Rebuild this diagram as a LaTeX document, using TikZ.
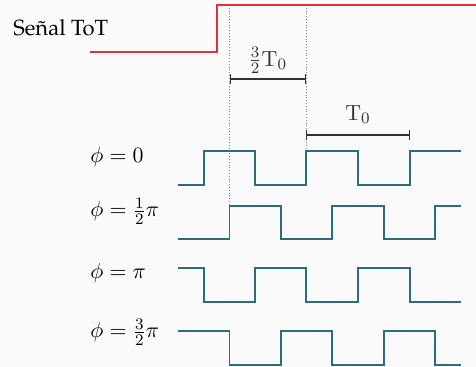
\documentclass[tikz,border=0pt]{standalone}
\usepackage[T1]{fontenc}
\usepackage{palatino}
\usetikzlibrary{arrows.meta}
\definecolor{signalred}{HTML}{D8343C}
\definecolor{petrol}{HTML}{2C6E7E}
\definecolor{paper}{HTML}{FAFAFA}
\tikzset{
  sqwave/.style={petrol,line width=0.9pt},
  guide/.style={gray,densely dotted,line width=0.4pt},
  span/.style={{Bar[width=5pt]}-{Bar[width=5pt]},line width=0.7pt,black!80},
  lbl/.style={anchor=base west,inner sep=0pt,font=\fontsize{11}{13}\selectfont}
}

\begin{document}
\begin{tikzpicture}[x=0.5pt,y=-0.5pt]
      \fill[paper] (0,0) rectangle (476,367);
      \useasboundingbox (0,0) rectangle (476,367);
      % ToT signal
      \node[lbl] (tot) at (13,36) {Se\~nal ToT};
      \draw[signalred,line width=0.8pt] (90,52) -| (217,5) -- (476,5);
      % guides and spans
      \coordinate (g1) at (229.5,5); \coordinate (g1b) at (229.5,206);
      \coordinate (g2) at (306,5);   \coordinate (g2b) at (306,151);
      \draw[guide] (g1) -- (g1b);
      \draw[guide] (g2) -- (g2b);
      \coordinate (sa) at (229.5,79); \coordinate (sb) at (306,79);
      \coordinate (ta) at (306,135);  \coordinate (tb) at (410,135);
      \draw[span] (sa) -- node[above=-1pt,font=\fontsize{11}{13}\selectfont] (threehalf) {$\frac{3}{2}\mathrm{T}_0$} (sb);
      \draw[span] (ta) -- node[above=2pt,font=\fontsize{11}{13}\selectfont] (period) {$\mathrm{T}_0$} (tb);
      % phase labels
      \node[lbl] (ph0) at (90,163) {$\phi = 0$};
      \node[lbl] (ph1) at (90,217) {$\phi = \frac{1}{2}\pi$};
      \node[lbl] (ph2) at (90,279) {$\phi = \pi$};
      \node[lbl] (ph3) at (90,338) {$\phi = \frac{3}{2}\pi$};
      % square waves
      \draw[sqwave] (178,185) -| (204,151) -| (255,185) -| (306,151) -| (358,185) -| (410,151) -- (461,151);
      \draw[sqwave] (178,239) -| (229.5,206) -| (281,239) -| (332,206) -| (384,239) -| (435,206) -- (461,206);
      \draw[sqwave] (178,268) -| (204,302) -| (255,268) -| (306,302) -| (358,268) -| (410,302) -- (461,302);
      \draw[sqwave] (178,331) -| (229.5,365) -| (281,331) -| (332,365) -| (384,331) -| (435,365) -- (461,365);
    \end{tikzpicture}
\end{document}
